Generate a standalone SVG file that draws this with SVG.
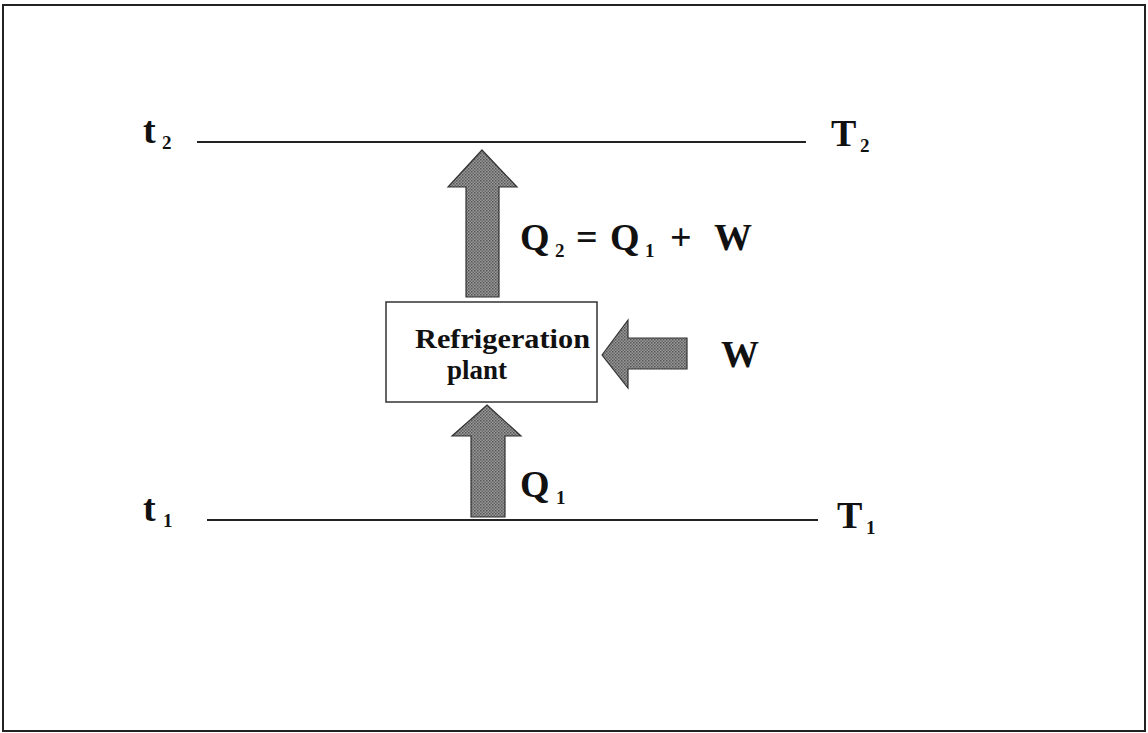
<svg xmlns="http://www.w3.org/2000/svg" width="1148" height="733" viewBox="0 0 1148 733">
  <defs>
    <pattern id="stip" width="3" height="3" patternUnits="userSpaceOnUse">
      <rect width="3" height="3" fill="#9a9a9a"/>
      <rect width="1.5" height="1.5" fill="#555"/>
      <rect x="1.5" y="1.5" width="1.5" height="1.5" fill="#666"/>
    </pattern>
  </defs>
  <style>
    .lbl { font-family: "Liberation Serif", "Times New Roman", serif; font-weight: bold; fill: #111; }
    .big { font-size: 38px; }
    .sub { font-size: 19px; }
    .box { fill: #fff; stroke: #333; stroke-width: 1.5; }
    .arrow { fill: url(#stip); stroke: #333; stroke-width: 1.2; }
    .line { stroke: #222; stroke-width: 1.8; fill: none; }
  </style>
  <rect x="0" y="0" width="1148" height="733" fill="#fff"/>
  <rect x="3" y="5" width="1142" height="726" fill="none" stroke="#222" stroke-width="2"/>

  <g id="connectors">
    <line class="line" x1="197" y1="142" x2="806" y2="142"/>
    <line class="line" x1="207" y1="520" x2="818" y2="520"/>
    <path class="arrow" d="M482,150 L517,187 L499,187 L499,297 L466,297 L466,187 L448,187 Z"/>
    <path class="arrow" d="M487,405 L521,436 L505,436 L505,517 L471,517 L471,436 L452,436 Z"/>
    <path class="arrow" d="M602,355 L628,320 L628,338 L687,338 L687,369 L628,369 L628,388 Z"/>
  </g>

  <g id="plant">
    <rect class="box" x="386" y="302" width="211" height="100"/>
    <text class="lbl" x="415" y="348" font-size="28" textLength="175" lengthAdjust="spacingAndGlyphs">Refrigeration</text>
    <text class="lbl" x="447" y="379" font-size="28" textLength="60" lengthAdjust="spacingAndGlyphs">plant</text>
  </g>

  <g id="t2">
    <text class="lbl big" x="143" y="143">t<tspan class="sub" x="162" y="149">2</tspan></text>
  </g>
  <g id="T2">
    <text class="lbl big" x="831" y="146">T<tspan class="sub" x="860" y="152">2</tspan></text>
  </g>
  <g id="t1">
    <text class="lbl big" x="143" y="521">t<tspan class="sub" x="163" y="527">1</tspan></text>
  </g>
  <g id="T1">
    <text class="lbl big" x="837" y="528">T<tspan class="sub" x="866" y="534">1</tspan></text>
  </g>
  <g id="label-Q2">
    <text class="lbl big" x="520" y="250">Q<tspan class="sub" x="555" y="257">2</tspan><tspan x="576" y="250">=</tspan><tspan x="610">Q</tspan><tspan class="sub" x="645" y="257">1</tspan><tspan x="670" y="250">+</tspan><tspan x="714">W</tspan></text>
  </g>
  <g id="label-W">
    <text class="lbl big" x="721" y="367">W</text>
  </g>
  <g id="label-Q1">
    <text class="lbl big" x="520" y="497">Q<tspan class="sub" x="556" y="504">1</tspan></text>
  </g>
</svg>
